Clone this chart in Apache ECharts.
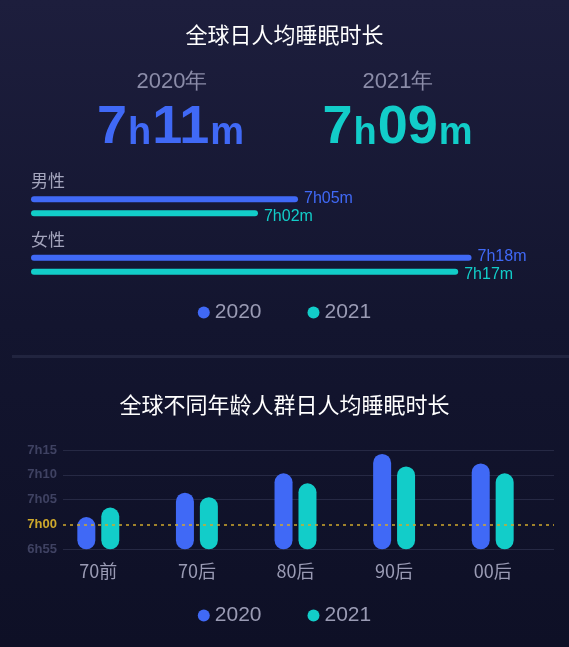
<!DOCTYPE html>
<html>
<head>
<meta charset="utf-8">
<title>全球日人均睡眠时长</title>
<script src="https://cdn.jsdelivr.net/npm/echarts/dist/echarts.min.js"></script>
<style>
  html, body { margin: 0; padding: 0; background: #10122a; }
  #main { width: 569px; height: 647px; }
</style>
</head>
<body>
<div id="main"></div>
<script>
// all values in minutes of sleep per day
var years = ['2020', '2021'];
var overallAvg = [431, 429];

var genders = ['男性', '女性'];
var gender2020 = [425, 438];
var gender2021 = [422, 437];

var ageGroups = ['70前', '70后', '80后', '90后', '00后'];
var age2020 = [421.5, 426.4, 430.3, 434.2, 432.3];
var age2021 = [423.4, 425.5, 428.3, 431.7, 430.3];
var ageTicks = [415, 420, 425, 430, 435];

var BLUE = '#4069f6';
var TEAL = '#12cdc9';
var GOLD = '#cfa92c';

function pad(n) { return (n < 10 ? '0' : '') + n; }
function hm(v) {
    var h = Math.floor(v / 60);
    return h + 'h' + pad(Math.round(v - h * 60));
}
function bigText(v) {
    var h = Math.floor(v / 60);
    return '{a|' + h + '}{b|h}{a|' + pad(Math.round(v - h * 60)) + '}{b|m}';
}
function bigRich(color) {
    return {
        a: { fontSize: 54, fontWeight: 'bold', color: color, lineHeight: 54, verticalAlign: 'bottom', fontFamily: 'Liberation Sans' },
        b: { fontSize: 38, fontWeight: 'bold', color: color, lineHeight: 38, verticalAlign: 'bottom', padding: [0, 1, 2, 1], fontFamily: 'Liberation Sans' }
    };
}

var dom = document.getElementById('main');
var myChart = echarts.init(dom);
var font = '"Noto Sans CJK SC", "Liberation Sans", sans-serif';

var option = {
    backgroundColor: new echarts.graphic.LinearGradient(0, 0, 0, 1, [
        { offset: 0, color: '#1d1e3d' },
        { offset: 0.5, color: '#13152f' },
        { offset: 1, color: '#0e1026' }
    ]),
    textStyle: { fontFamily: font },
    title: [
        { text: '全球日人均睡眠时长', left: 'center', top: 24, padding: 0,
          textStyle: { color: '#ffffff', fontSize: 22, fontWeight: 'normal' } },
        { text: years[0] + '年', left: 172, textAlign: 'center', top: 71, padding: 0,
          textStyle: { color: '#8b8ca8', fontSize: 22, fontWeight: 'normal', fontFamily: 'Liberation Sans' } },
        { text: years[1] + '年', left: 398, textAlign: 'center', top: 71, padding: 0,
          textStyle: { color: '#8b8ca8', fontSize: 22, fontWeight: 'normal', fontFamily: 'Liberation Sans' } },
        { text: bigText(overallAvg[0]), left: 171, textAlign: 'center', top: 101, padding: 0,
          textStyle: { rich: bigRich(BLUE) } },
        { text: bigText(overallAvg[1]), left: 398, textAlign: 'center', top: 101, padding: 0,
          textStyle: { rich: bigRich(TEAL) } },
        { text: '全球不同年龄人群日人均睡眠时长', left: 'center', top: 394, padding: 0,
          textStyle: { color: '#ffffff', fontSize: 22, fontWeight: 'normal' } }
    ],
    legend: [
        { data: years, top: 302, left: 'center', padding: 0, icon: 'circle',
          itemWidth: 12, itemHeight: 12, itemGap: 46,
          textStyle: { color: '#9a9bb4', fontSize: 21, fontFamily: 'Liberation Sans' } },
        { data: years, top: 605, left: 'center', padding: 0, icon: 'circle',
          itemWidth: 12, itemHeight: 12, itemGap: 46,
          textStyle: { color: '#9a9bb4', fontSize: 21, fontFamily: 'Liberation Sans' } }
    ],
    graphic: [
        { type: 'rect', left: 12, top: 355, shape: { width: 557, height: 3 },
          style: { fill: '#21243f' }, silent: true }
    ],
    grid: [
        { left: 31, right: 4, top: 177, height: 117 },
        { left: 49, right: 27, top: 450, height: 99.3 },
        { left: 63, right: 15, top: 450, height: 99.3 }
    ],
    xAxis: [
        { gridIndex: 0, type: 'value', min: 405, max: 445, show: false },
        { gridIndex: 1, type: 'category', data: ageGroups,
          axisLine: { show: false }, axisTick: { show: false },
          axisLabel: { color: '#9a9bb4', fontSize: 18, margin: 13 } },
        { gridIndex: 2, type: 'value', show: false }
    ],
    yAxis: [
        { gridIndex: 0, type: 'category', data: genders, inverse: true,
          axisLine: { show: false }, axisTick: { show: false }, splitLine: { show: false },
          axisLabel: {
              inside: true, margin: 0, align: 'left', verticalAlign: 'middle',
              formatter: function (v) { return '{n|' + v + '}\n{s| }'; },
              rich: {
                  n: { color: '#a4a5bd', fontSize: 17, lineHeight: 18 },
                  s: { fontSize: 10, lineHeight: 51 }
              }
          } },
        { gridIndex: 1, type: 'value', min: ageTicks[0], max: ageTicks[ageTicks.length - 1],
          interval: 5, show: false, splitLine: { show: false } },
        { gridIndex: 2, type: 'value', min: ageTicks[0], max: ageTicks[ageTicks.length - 1],
          interval: 5,
          axisLine: { show: false }, axisTick: { show: false },
          axisLabel: {
              formatter: function (v) { return hm(v); },
              color: function (v) { return Number(v) === 420 ? GOLD : '#3f4262'; },
              fontSize: 13, fontWeight: 'bold', margin: 6, fontFamily: 'Liberation Sans'
          },
          splitLine: { lineStyle: { color: ['#262944', 'rgba(0,0,0,0)', '#262944', '#262944', '#262944'], width: 1 } } }
    ],
    series: [
        {
            name: years[0], type: 'bar', xAxisIndex: 0, yAxisIndex: 0,
            data: gender2020, barWidth: 6, barGap: '133%',
            itemStyle: { color: BLUE, borderRadius: 3 },
            label: { show: true, position: 'right', distance: 6, offset: [0, -1],
                     color: BLUE, fontSize: 16, fontFamily: 'Liberation Sans',
                     formatter: function (p) { return hm(p.value) + 'm'; } }
        },
        {
            name: years[1], type: 'bar', xAxisIndex: 0, yAxisIndex: 0,
            data: gender2021, barWidth: 6, barGap: '133%',
            itemStyle: { color: TEAL, borderRadius: 3 },
            label: { show: true, position: 'right', distance: 6, offset: [0, 3],
                     color: TEAL, fontSize: 16, fontFamily: 'Liberation Sans',
                     formatter: function (p) { return hm(p.value) + 'm'; } }
        },
        {
            name: years[0], type: 'bar', xAxisIndex: 1, yAxisIndex: 1,
            data: age2020, barWidth: 18, barGap: '33%', z: 3,
            itemStyle: { color: BLUE, borderRadius: 9 }
        },
        {
            name: years[1], type: 'bar', xAxisIndex: 1, yAxisIndex: 1,
            data: age2021, barWidth: 18, barGap: '33%', z: 3,
            itemStyle: { color: TEAL, borderRadius: 9 }
        },
        {
            name: 'ref', type: 'line', xAxisIndex: 2, yAxisIndex: 2, data: [], z: 1,
            markLine: {
                silent: true, symbol: 'none', label: { show: false },
                lineStyle: { color: GOLD, type: [3, 4], width: 1.5 },
                data: [{ yAxis: 420 }]
            }
        }
    ]
};

myChart.setOption(option);
</script>
</body>
</html>
